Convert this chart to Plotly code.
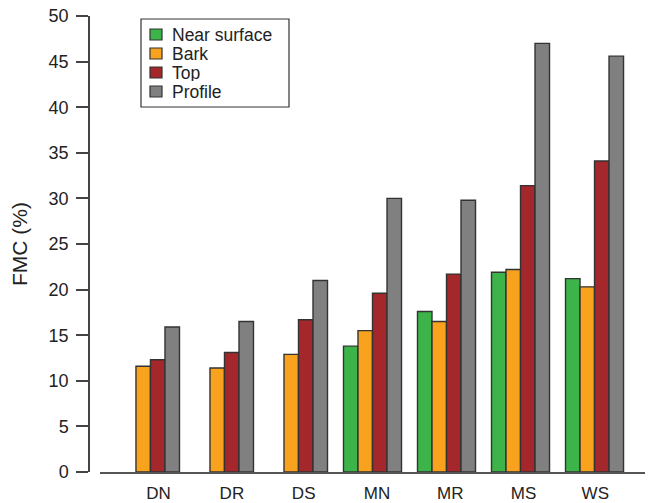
import plotly.graph_objects as go

sites = ["DN", "DR", "DS", "MN", "MR", "MS", "WS"]
label_pos = [0.11, 1.10, 2.07, 3.06, 4.05, 5.04, 6.01]
near_surface = [None, None, None, 13.8, 17.6, 21.9, 21.2]
bark = [11.6, 11.4, 12.9, 15.5, 16.5, 22.2, 20.3]
top = [12.3, 13.1, 16.7, 19.6, 21.7, 31.4, 34.1]
profile = [15.9, 16.5, 21.0, 30.0, 29.8, 47.0, 45.6]

series = [
    ("Near surface", near_surface, "#3cb44a"),
    ("Bark", bark, "#f8a21e"),
    ("Top", top, "#a3272b"),
    ("Profile", profile, "#808080"),
]

xs = list(range(len(sites)))
fig = go.Figure()
for name, vals, col in series:
    fig.add_trace(go.Bar(
        x=xs, y=vals, name=name, showlegend=False,
        marker=dict(color=col, line=dict(color="#333333", width=1.4)),
    ))

W, H = 654, 503
ml, mr, mt, mb = 60, 9, 16, 31
pw = W - ml - mr
ph = H - mt - mb
font = "Arial, Liberation Sans, Helvetica, sans-serif"
txt = "#222222"


def px(x):
    return (x - ml) / pw


def py(y):
    return 1 - (y - mt) / ph


# legend drawn as a framed key (paper coordinates)
shapes = [dict(type="rect", xref="paper", yref="paper",
               x0=px(141), x1=px(289), y0=py(19), y1=py(107),
               line=dict(color="#333333", width=1.2), fillcolor="white", layer="above")]
annotations = []
row_y = [34.5, 53.5, 72.5, 91.5]
for (name, _, col), ry in zip(series, row_y):
    shapes.append(dict(type="rect", xref="paper", yref="paper",
                       x0=px(150), x1=px(162), y0=py(ry + 5.5), y1=py(ry - 5.5),
                       line=dict(color="#333333", width=1.2), fillcolor=col, layer="above"))
    annotations.append(dict(xref="paper", yref="paper", x=px(171), y=py(ry),
                            xanchor="left", yanchor="middle", text=name, showarrow=False,
                            height=17, borderpad=0,
                            font=dict(size=17.5, color=txt)))

fig.update_layout(
    width=W, height=H,
    margin=dict(l=ml, r=mr, t=mt, b=mb, autoexpand=False),
    barmode="group", bargap=0.216, bargroupgap=0,
    plot_bgcolor="white", paper_bgcolor="white",
    font=dict(family=font, size=18, color=txt),
    showlegend=False,
    shapes=shapes, annotations=annotations,
    xaxis=dict(
        domain=[px(100), 1],
        range=[-0.682, 6.682],
        tickmode="array", tickvals=label_pos, ticktext=sites,
        ticks="", showline=True, linecolor="#555555", linewidth=1.5,
        showgrid=False, zeroline=False, automargin=False,
        tickfont=dict(size=17, color=txt),
        ticklabelstandoff=5,
    ),
    yaxis=dict(
        anchor="free", position=px(89),
        range=[0, 50], tickmode="array", tickvals=list(range(0, 51, 5)),
        ticks="outside", ticklen=12, tickwidth=1.5, tickcolor="#444444",
        showline=True, linecolor="#444444", linewidth=1.5,
        showgrid=False, zeroline=False, automargin=False,
        tickfont=dict(size=18, color=txt),
        title=dict(text="FMC (%)", font=dict(size=21, color=txt), standoff=14),
        ticklabelstandoff=4,
    ),
)

fig.write_html("out.html", config={"displayModeBar": False},
               post_script="document.body.style.margin='0';document.body.style.overflow='hidden';")
